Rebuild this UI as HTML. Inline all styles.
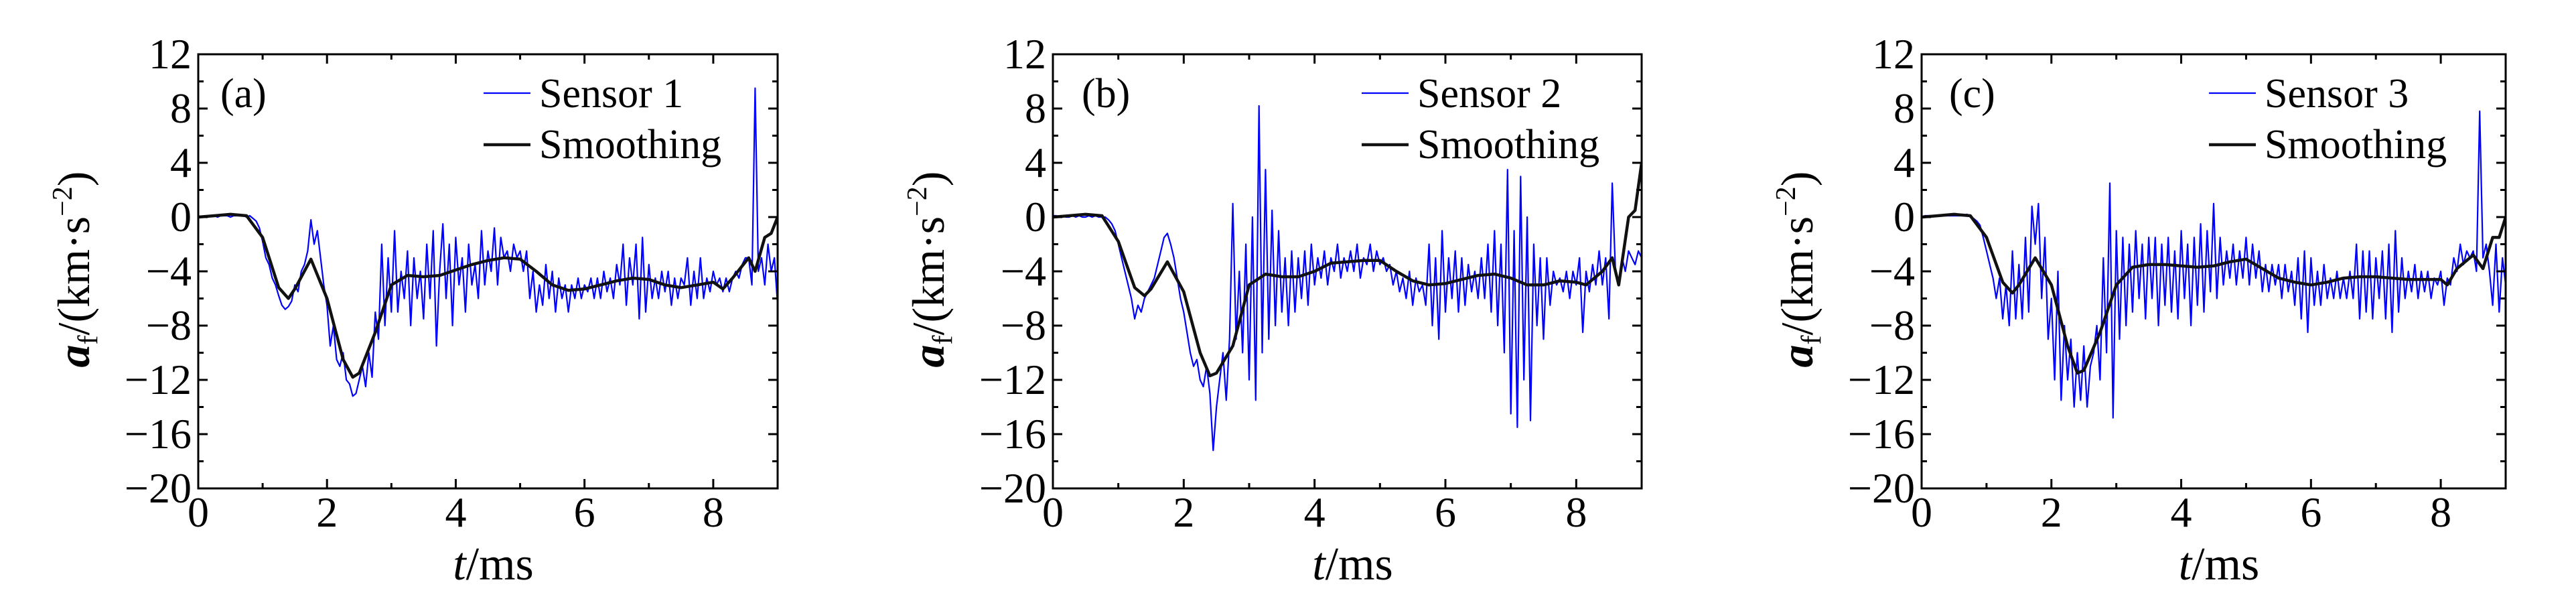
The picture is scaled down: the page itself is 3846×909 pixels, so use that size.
<!DOCTYPE html>
<html><head><meta charset="utf-8"><style>
html,body{margin:0;padding:0;background:#fff;}
svg{display:block;}
svg text{font-family:"Liberation Serif","DejaVu Serif","Times New Roman",serif !important;fill:#000;}
</style></head><body>
<svg id="fig" width="3846" height="909" viewBox="0 0 3846 909" xmlns="http://www.w3.org/2000/svg"></svg>
<script>
// ---------- data ----------
const xTicks = [0, 2, 4, 6, 8];
const yTicks = [12, 8, 4, 0, -4, -8, -12, -16, -20];
const panelLabels = ["(a)", "(b)", "(c)"];
const sensorNames = ["Sensor 1", "Sensor 2", "Sensor 3"];
const rawStep = 0.05;

const sensor1 = [0,0,0.1,0,0.1,0.1,0,0.1,0.1,0.1,0,0.1,0.1,0.1,0.1,0,0.1,-0.1,-0.3,
-0.8,-1.8,-3,-3.5,-4.5,-5,-5.8,-6.5,-6.8,-6.6,-6.2,-5,
-5.5,-4,-3.5,-2.5,-0.2,-2,-1,-3,-5,-6.5,
-9.5,-8,-10.5,-11,-10,-12,-12.3,-13.2,-13,-12,-11,-12.5,-10,-11.8,-7,
-9,-2,-8,-3,-7,-1,-7,-4,-6,-2.5,-8,-3,-6,-4,-7.5,
-2,-6,-1,-9.5,-4,-0.5,-6,-2,-8,-1.5,-5,-3,-7,-2,-5,-3.5,-6,-1,-5,-2.5,
-4,-0.8,-5,-1.5,-3,-2.5,-4,-2,-3,-2.5,-4,-2.5,-6,-4,-7,-5,
-6.5,-3.5,-6,-4,-7,-4.5,-6,-5,-7,-5,-6,-4.5,-6,-5,-5.5,-4.5,-6,-4.5,-6,-4,-5.5,-4.5,-6,-3.5,
-5,-2,-6.5,-3,-5,-2,-7.5,-1.5,-7,-3.5,-6,-4.5,-6,-4,-5.5,-4,-6.5,-4.5,-6,-4.5,
-5,-3,-6.5,-4,-6,-3,-6,-4.5,-5.5,-4,-5,-4.5,-5.5,-4.5,-5.5,-4.5,-4,-4.5,-3.5,-3,
-3,-5,9.5,-4,-3,-5,-2,-4,-3,-6.5];

const sensor2 = [0.1,0.1,0,0.1,0,0,0.1,0,0.1,0,0,0.1,0,0.1,0,0,0,-0.2,-0.5,
-1,-2,-3,-4,-5,-6,-7.5,-6.5,-7,-6,-5.5,-5,
-4.5,-3.5,-2.5,-1.5,-1.2,-2,-3,-4.5,-6,-7,
-8.5,-10,-11,-10.5,-12,-12.5,-11,-13,-17.2,-14,-12,-10,-13.5,-9,1,
-9,-4,-10,-2,-12,0,-13.5,8.2,-10,3.5,-9,0.5,-8,-1,-7,
-3,-8,-2.5,-7,-3,-6,-2.5,-6.5,-2,-5,-3,-4.5,-2.5,-5,-3,-4,-2,-4.5,-3,-4,
-2.5,-4,-2,-4.5,-3,-3.5,-2,-4,-2.5,-3.5,-3,-4,-3.5,-5,-4,-5.5,
-4.5,-6,-4,-6.5,-4.5,-5.5,-5,-6.5,-2,-8,-3,-9,-1,-7,-3,-6,-2.5,-7,-3,-6.5,-3.5,-5.5,-4,-6,
-3,-6,-2,-7,-1,-8,-2,-10,3.5,-14.5,-1,-15.5,3,-12,0,-15,-2,-8,-3,-9,
-3,-6.5,-4,-5,-4.5,-5.5,-4,-6,-4,-5,-3,-8.5,-4,-5.5,-3.5,-5,-2.5,-5,-3,-7.5,
2.5,-4,-5,-3,-4,-2.5,-3,-3.5,-2.5,-3];

const sensor3 = [0,0.1,0.1,0.1,0.1,0.1,0.1,0.1,0.1,0.1,0.1,0.1,0.1,0.1,0.2,0,-0.1,-0.3,-0.6,
-1.5,-2.5,-3.5,-4.5,-6,-4.5,-7.5,-5,-8,-2.5,-7.5,-3.5,
-7.5,-1.5,-7,0.8,-2,1,-6,-1.5,-9,-6,
-12,-4,-13.5,-8,-12,-9,-14,-10,-13.5,-9.5,-14,-11,-10,-8,-12,
-3,-10,2.5,-14.8,-1,-9,-1.5,-8,-2,-7,-1,-6,-2,-7.5,-1.5,
-6,-1.5,-8,-2,-6.5,-1.5,-7,-2.5,-7.5,-1,-6,-2,-8,-1.5,-6.5,-0.5,-7,-1,-5.5,1,
-6,-1.5,-5,-2.5,-4.5,-2,-5,-2.5,-4.5,-1.5,-5,-2,-4.5,-2.5,-5.5,-3.5,
-5.5,-3.5,-5,-3.5,-6,-3.5,-5.5,-4,-6.5,-3,-7.5,-2.5,-8.5,-3,-6.5,-4,-6.5,-3.5,-6,-4.5,-6,-4,-6,-4.5,
-6,-4,-6,-2,-7.5,-2.5,-7,-2.5,-7.5,-3,-6,-2.5,-7.5,-2,-8.5,-1,-7,-3,-6,-4,
-5.5,-3.5,-6,-4,-5.5,-4,-6,-4.5,-5,-4,-6.5,-4.5,-5,-3,-4,-2,-3.5,-2.5,-3,-2.5,
-4,7.8,-3,-2,-4,-6.5,-2,-7,-3,-5];

const smoothT1 = [0,.25,.5,.75,1,1.25,1.4,1.5,1.75,2,2.25,2.4,2.5,2.75,3,3.25,3.5,3.75,4,4.25,4.5,4.75,5,5.25,5.5,5.75,6,6.25,6.5,6.75,7,7.25,7.5,7.75,8,8.15,8.3,8.55,8.65,8.8,8.9,9.0];
const smoothY1 = [0,0.1,0.2,0.1,-1.5,-5.2,-6,-5.3,-3.1,-6,-10.5,-11.8,-11.5,-8.5,-5,-4.3,-4.4,-4.3,-3.9,-3.5,-3.2,-3,-3.1,-4,-5,-5.4,-5.3,-5,-4.7,-4.5,-4.6,-5,-5.2,-5,-4.8,-5.3,-4.5,-3,-4,-1.5,-1.2,0];

const smoothT2 = [0,.25,.5,.75,1,1.25,1.4,1.5,1.75,2,2.25,2.4,2.5,2.75,3,3.25,3.5,3.75,4,4.25,4.5,4.75,5,5.25,5.5,5.75,6,6.25,6.5,6.75,7,7.25,7.5,7.75,8,8.15,8.4,8.55,8.65,8.8,8.9,9.0];
const smoothY2 = [0,0.1,0.2,0.1,-1.8,-5.2,-5.8,-5.3,-3.3,-5.5,-10,-11.7,-11.5,-9.5,-5,-4.2,-4.4,-4.4,-4,-3.4,-3.3,-3.2,-3.2,-4,-4.7,-5,-4.9,-4.6,-4.3,-4.2,-4.5,-5,-5,-4.7,-4.8,-5,-4,-3,-5,0,0.5,4];

const smoothT3 = [0,.25,.5,.75,1,1.25,1.4,1.5,1.75,2,2.25,2.4,2.5,2.75,3,3.25,3.5,3.75,4,4.25,4.5,4.75,5,5.25,5.5,5.75,6,6.25,6.5,6.75,7,7.25,7.5,7.75,8,8.1,8.25,8.5,8.65,8.8,8.9,9.0];
const smoothY3 = [0,0.1,0.2,0.1,-1.5,-4.8,-5.6,-5,-3,-5,-9.5,-11.5,-11.3,-8.5,-5,-3.7,-3.5,-3.5,-3.6,-3.7,-3.6,-3.3,-3.1,-3.8,-4.5,-4.8,-5,-4.8,-4.5,-4.4,-4.4,-4.5,-4.6,-4.6,-4.6,-5,-3.8,-2.8,-3.8,-1.5,-1.5,0];

// ---------- drawing ----------
const NS = "http://www.w3.org/2000/svg";
const svg = document.getElementById("fig");
const SERIF = "'Liberation Serif', 'DejaVu Serif', serif";
function mk(tag, attrs, parent) {
  const e = document.createElementNS(NS, tag);
  for (const k in attrs) e.setAttribute(k, attrs[k]);
  if (tag === "text") e.style.fontFamily = SERIF;
  (parent || svg).appendChild(e);
  return e;
}
function tsp(parent, txt, attrs) {
  const t = document.createElementNS(NS, "tspan");
  for (const k in attrs) t.setAttribute(k, attrs[k]);
  t.textContent = txt;
  parent.appendChild(t);
  return t;
}
const panels = [
  {x0: 296, x1: 1161, leg: 439, lab: 33, raw: sensor1, st: smoothT1, sy: smoothY1},
  {x0: 1572, x1: 2451, leg: 418, lab: 43, raw: sensor2, st: smoothT2, sy: smoothY2},
  {x0: 2869, x1: 3741, leg: 443, lab: 41, raw: sensor3, st: smoothT3, sy: smoothY3}
];
const Y0 = 81, Y1 = 729;
panels.forEach((p, i) => {
  const g = mk("g", {});
  
  
  const sx = t => p.x0 + (t / 9) * (p.x1 - p.x0);
  const sy = v => Y1 - ((v + 20) / 32) * (Y1 - Y0);
  const clipId = "clip" + i;
  const cp = mk("clipPath", {id: clipId}, g);
  mk("rect", {x: p.x0, y: Y0 - 2, width: p.x1 - p.x0, height: Y1 - Y0 + 4}, cp);

  let d = "";
  p.raw.forEach((v, k) => { d += (k ? "L" : "M") + sx(k * rawStep).toFixed(1) + " " + sy(v).toFixed(1); });
  const raw = mk("path", {d: d, fill: "none", stroke: "#0000ff", "stroke-width": 2.2, "stroke-linejoin": "round", "clip-path": "url(#" + clipId + ")"}, g);
  
  

  let d2 = "";
  p.st.forEach((t, k) => { d2 += (k ? "L" : "M") + sx(t).toFixed(1) + " " + sy(p.sy[k]).toFixed(1); });
  const sm = mk("path", {d: d2, fill: "none", stroke: "#111", "stroke-width": 4.5, "stroke-linejoin": "round", "clip-path": "url(#" + clipId + ")"}, g);
  
  

  const fr = mk("rect", {x: p.x0, y: Y0, width: p.x1 - p.x0, height: Y1 - Y0, fill: "none", stroke: "#000", "stroke-width": 3}, g);
  
  

  for (let t = 0; t <= 9; t++) {
    const L = t % 2 === 0 ? 14 : 8;
    const x = sx(t);
    mk("line", {x1: x, y1: Y1, x2: x, y2: Y1 - L, stroke: "#000", "stroke-width": 3}, g);
    mk("line", {x1: x, y1: Y0, x2: x, y2: Y0 + L, stroke: "#000", "stroke-width": 3}, g);
  }
  for (let v = -20; v <= 12; v += 2) {
    const L = v % 4 === 0 ? 14 : 8;
    const y = sy(v);
    mk("line", {x1: p.x0, y1: y, x2: p.x0 + L, y2: y, stroke: "#000", "stroke-width": 3}, g);
    mk("line", {x1: p.x1, y1: y, x2: p.x1 - L, y2: y, stroke: "#000", "stroke-width": 3}, g);
  }
  xTicks.forEach(t => {
    const tx = mk("text", {x: sx(t), y: 786, "font-size": 64, "text-anchor": "middle"}, g);
    tx.textContent = t;
    
    
  });
  yTicks.forEach(v => {
    const tx = mk("text", {x: p.x0 - 10, y: sy(v) + 21, "font-size": 64, "text-anchor": "end"}, g);
    tx.textContent = v < 0 ? "\u2212" + (-v) : String(v);
    
    
  });

  const xt = mk("text", {x: (p.x0 + p.x1) / 2 + 8, y: 865, "font-size": 70, "text-anchor": "middle"}, g);
  tsp(xt, "t", {"font-style": "italic"});
  tsp(xt, "/ms", {});
  
  
  const yx = p.x0 - 185, yy = 402;
  const yt = mk("text", {x: yx, y: yy, "font-size": 68, "text-anchor": "middle", transform: "rotate(-90 " + yx + " " + yy + ")", dy: 22}, g);
  tsp(yt, "a", {"font-style": "italic", "font-weight": "bold"});
  tsp(yt, "f", {"font-size": 42, dy: 12});
  tsp(yt, "/(km·s", {dy: -12});
  tsp(yt, "\u22122", {"font-size": 42, dy: -26});
  tsp(yt, ")", {dy: 26});
  
  

  const pl = mk("text", {x: p.x0 + p.lab, y: 160, "font-size": 62}, g);
  pl.textContent = panelLabels[i];
  
  

  const lx = p.x1 - p.leg;
  const lg = mk("g", {}, g);
  
  
  mk("line", {x1: lx, y1: 139, x2: lx + 70, y2: 139, stroke: "#0000ff", "stroke-width": 2.2}, lg);
  const l1 = mk("text", {x: lx + 83, y: 160, "font-size": 62}, lg);
  l1.textContent = sensorNames[i];
  
  
  mk("line", {x1: lx, y1: 216, x2: lx + 70, y2: 216, stroke: "#111", "stroke-width": 4.5}, lg);
  const l2 = mk("text", {x: lx + 83, y: 236, "font-size": 62}, lg);
  l2.textContent = "Smoothing";
  
  
});
</script>
</body></html>
